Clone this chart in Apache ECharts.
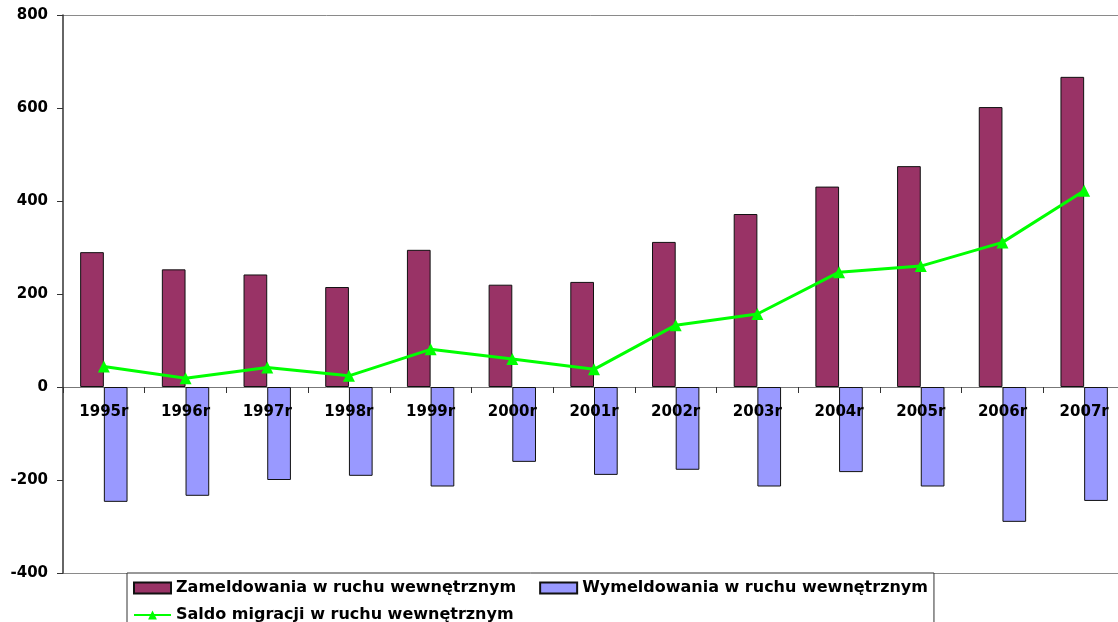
<!DOCTYPE html>
<html>
<head>
<meta charset="utf-8">
<script src="https://cdn.jsdelivr.net/npm/echarts@6/dist/echarts.min.js"></script>
<style>
  html, body { margin: 0; padding: 0; background: #fff; }
  #chart { width: 1118px; height: 622px; }
</style>
</head>
<body>
<div id="chart"></div>
<script>
const categories = ['1995r', '1996r', '1997r', '1998r', '1999r', '2000r', '2001r', '2002r', '2003r', '2004r', '2005r', '2006r', '2007r'];
const zameldowania = [290, 253, 242, 215, 295, 220, 226, 312, 372, 431, 475, 602, 667];
const wymeldowania = [-247, -234, -200, -191, -214, -161, -189, -178, -214, -183, -214, -290, -245];
const saldo = [44, 19, 42, 24, 81, 60, 38, 133, 157, 247, 260, 311, 422];
const yTicks = { min: -400, max: 800, interval: 200 };

const nameZ = 'Zameldowania w ruchu wewnętrznym';
const nameW = 'Wymeldowania w ruchu wewnętrznym';
const nameS = 'Saldo migracji w ruchu wewnętrznym';

const gridH = 558;
// distance from grid bottom to the zero line, derived from the value scale
const zeroOffset = gridH * (0 - yTicks.min) / (yTicks.max - yTicks.min);

const font = 'DejaVu Sans';
const frameAxis = (position) => ({
  type: 'category', data: categories, position: position, z: 1,
  axisLine: { show: true, onZero: false, lineStyle: { color: '#8a8a8a', width: 1 } },
  axisTick: { show: false }, axisLabel: { show: false }, splitLine: { show: false }
});

const chart = echarts.init(document.getElementById('chart'));
chart.setOption({
  animation: false,
  backgroundColor: '#fff',
  grid: {
    left: 63, width: 1062, top: 15, height: gridH,
    containLabel: false, outerBoundsMode: 'none', show: false
  },
  legend: [
    {
      data: [{ name: nameZ, icon: 'rect' }, { name: nameW, icon: 'rect' }],
      left: 127, top: 573,
      orient: 'horizontal',
      padding: [6, 6, 40, 6],
      itemGap: 23, itemWidth: 37, itemHeight: 11,
      backgroundColor: '#fff', borderColor: '#333', borderWidth: 1,
      textStyle: { fontFamily: font, fontWeight: 'bold', fontSize: 16, color: '#000', lineHeight: 18 }
    },
    {
      data: [nameS],
      left: 133, top: 606,
      padding: 0,
      z: 10,
      itemWidth: 37, itemHeight: 11,
      textStyle: { fontFamily: font, fontWeight: 'bold', fontSize: 16, color: '#000', lineHeight: 18 }
    }
  ],
  xAxis: [
    {
      type: 'category', data: categories,
      axisLine: { onZero: true, lineStyle: { color: '#777', width: 1 } },
      axisTick: { show: true, inside: false, length: 6, lineStyle: { color: '#333' } },
      axisLabel: { show: false },
      splitLine: { show: false }
    },
    {
      type: 'category', data: categories, position: 'bottom', offset: -zeroOffset, z: 10,
      axisLine: { show: false, onZero: false },
      axisTick: { show: false },
      axisLabel: { fontFamily: font, fontWeight: 'bold', fontSize: 15, color: '#000', margin: 18, interval: 0 },
      splitLine: { show: false }
    },
    frameAxis('top'),
    frameAxis('bottom')
  ],
  yAxis: {
    type: 'value', min: yTicks.min, max: yTicks.max, interval: yTicks.interval, z: 3,
    axisLine: { show: true, onZero: false, lineStyle: { color: '#333', width: 1.5 } },
    axisTick: { show: true, inside: false, length: 6, lineStyle: { color: '#333' } },
    axisLabel: { fontFamily: font, fontWeight: 'bold', fontSize: 15, color: '#000', margin: 15 },
    splitLine: { show: false }
  },
  series: [
    {
      name: nameZ, type: 'bar', data: zameldowania,
      barGap: '0%', barCategoryGap: '42%',
      itemStyle: { color: '#993366', borderColor: '#111', borderWidth: 1 }
    },
    {
      name: nameW, type: 'bar', data: wymeldowania,
      itemStyle: { color: '#9999FF', borderColor: '#111', borderWidth: 1 }
    },
    {
      name: nameS, type: 'line', data: saldo, z: 5,
      symbol: 'triangle', symbolSize: 12,
      lineStyle: { color: '#00FF00', width: 3 },
      itemStyle: { color: '#00FF00' }
    }
  ]
});
</script>
</body>
</html>
